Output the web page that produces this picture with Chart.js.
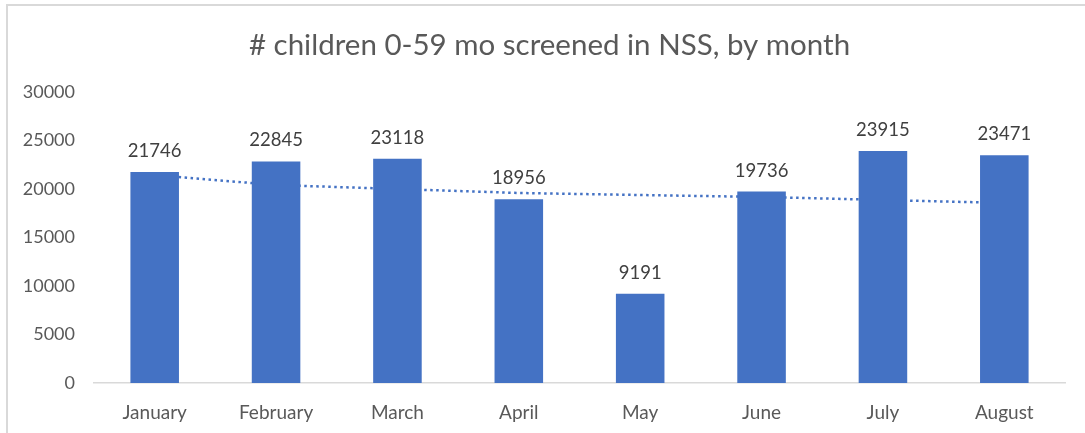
<!DOCTYPE html>
<html>
<head>
<meta charset="utf-8">
<script src="https://cdn.jsdelivr.net/npm/chart.js@4/dist/chart.umd.min.js"></script>
<style>
  html, body { margin: 0; padding: 0; background: #fff; }
  #wrap { position: relative; width: 1085px; height: 433px; overflow: hidden; }
  #frame { position: absolute; left: 6px; top: 4px; width: 1200px; height: 500px;
           border-top: 2px solid #d9d9d9; border-left: 2px solid #d9d9d9; }
  canvas { position: absolute; left: 0; top: 0; }
</style>
</head>
<body>
<div id="wrap">
  <div id="frame"></div>
  <canvas id="chart" width="1085" height="433"></canvas>
</div>
<script>
const months = ['January', 'February', 'March', 'April', 'May', 'June', 'July', 'August'];
const screened = [21746, 22845, 23118, 18956, 9191, 19736, 23915, 23471];
// dotted trend line at each month
const trend = [21440, 20410, 20000, 19590, 19380, 19180, 18870, 18560];
const yTicks = [0, 5000, 10000, 15000, 20000, 25000, 30000];
const chartTitle = '# children 0-59 mo screened in NSS, by month';

const FONT = 'Lato, "Open Sans", sans-serif';

// value labels above the bars
const barLabels = {
    id: 'barLabels',
    afterDatasetsDraw(chart) {
        const ctx = chart.ctx;
        const meta = chart.getDatasetMeta(0);
        ctx.save();
        ctx.font = '18.5px ' + FONT;
        ctx.fillStyle = '#404040';
        ctx.textAlign = 'center';
        ctx.textBaseline = 'alphabetic';
        meta.data.forEach((bar, i) => {
            ctx.fillText(String(screened[i]), bar.x, bar.y - 15);
        });
        ctx.restore();
    }
};

// title, centred over the whole frame rather than the padded box
const frameTitle = {
    id: 'frameTitle',
    afterDraw(chart) {
        const ctx = chart.ctx;
        ctx.save();
        ctx.font = '29.5px ' + FONT;
        ctx.fillStyle = '#595959';
        ctx.textAlign = 'center';
        ctx.textBaseline = 'middle';
        ctx.fillText(chartTitle, 549.5, 45);
        ctx.restore();
    }
};

const ctx = document.getElementById('chart').getContext('2d');
new Chart(ctx, {
    type: 'bar',
    data: {
        labels: months,
        datasets: [{
            type: 'bar',
            data: screened,
            backgroundColor: '#4472C4',
            borderWidth: 0,
            categoryPercentage: 1,
            barPercentage: 0.4,
            order: 0
        }, {
            type: 'line',
            data: trend,
            borderColor: '#4472C4',
            borderWidth: 2.5,
            borderDash: [2.5, 3.5],
            pointRadius: 0,
            tension: 0,
            fill: false,
            order: 1
        }]
    },
    plugins: [barLabels, frameTitle],
    options: {
        responsive: false,
        animation: false,
        layout: { padding: { left: 0, right: 20, top: 92, bottom: 0 } },
        plugins: {
            legend: { display: false },
            tooltip: { enabled: false },
            title: { display: false }
        },
        scales: {
            x: {
                afterFit: s => { s.height = 50; },
                grid: { display: false, drawTicks: false },
                border: { display: true, color: '#d9d9d9', width: 1.5 },
                ticks: { color: '#595959', font: { family: FONT, size: 19 }, padding: 18 }
            },
            y: {
                min: 0,
                max: 30000,
                afterBuildTicks: s => { s.ticks = yTicks.map(v => ({ value: v })); },
                afterFit: s => { s.width = 94; },
                grid: { display: false, drawTicks: false },
                border: { display: false },
                ticks: {
                    color: '#595959',
                    font: { family: FONT, size: 18 },
                    padding: 19,
                    callback: v => String(v)
                }
            }
        }
    }
});
</script>
</body>
</html>
